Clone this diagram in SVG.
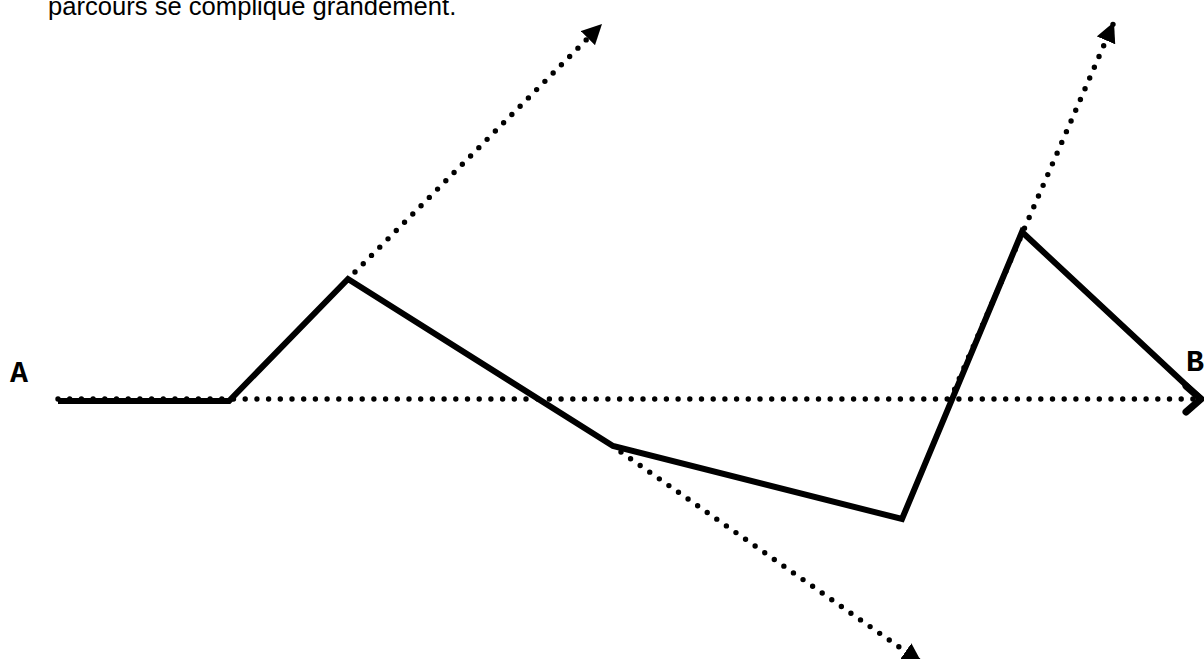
<svg xmlns="http://www.w3.org/2000/svg" width="1204" height="659" viewBox="0 0 1204 659">
<style>
.txt{font-family:"Liberation Sans",Arial,sans-serif;font-size:25.6px;fill:#000}
.lbl{font-family:"Liberation Mono","Courier New",monospace;font-weight:bold;font-size:30px;fill:#000}
.dot{fill:none;stroke:#000;stroke-width:5.4;stroke-linecap:round;stroke-dasharray:0 11.7}
.solid{fill:none;stroke:#000;stroke-width:6;stroke-linejoin:miter}
</style>
<defs>
<marker id="tri" markerUnits="userSpaceOnUse" markerWidth="20" markerHeight="20" viewBox="0 0 16 16" refX="16" refY="8" orient="auto">
<path d="M0,0 L16,8 L0,16 Z" fill="#000"/>
</marker>
</defs>
<rect width="1204" height="659" fill="#fff"/>
<text class="txt" x="48" y="14.5">parcours se complique grandement.</text>
<g id="connectors">
<line class="dot" x1="58" y1="399" x2="1196" y2="399"/>
<line class="dot" x1="355" y1="272" x2="602" y2="24" marker-end="url(#tri)"/>
<line class="dot" x1="621" y1="452" x2="922" y2="663" marker-end="url(#tri)"/>
<line class="dot" x1="950" y1="400" x2="1114" y2="22" marker-end="url(#tri)"/>
<polyline class="solid" points="58,401 229,401 348,279 613,446 902,519 1022,232 1201,399"/>
<polyline class="solid" points="1186,386 1201,399 1186,412" style="stroke-width:7;stroke-linecap:round"/>
</g>
<g id="nodeA"><text class="lbl" x="10" y="382">A</text></g>
<g id="nodeB"><text class="lbl" x="1186" y="371">B</text></g>
</svg>
